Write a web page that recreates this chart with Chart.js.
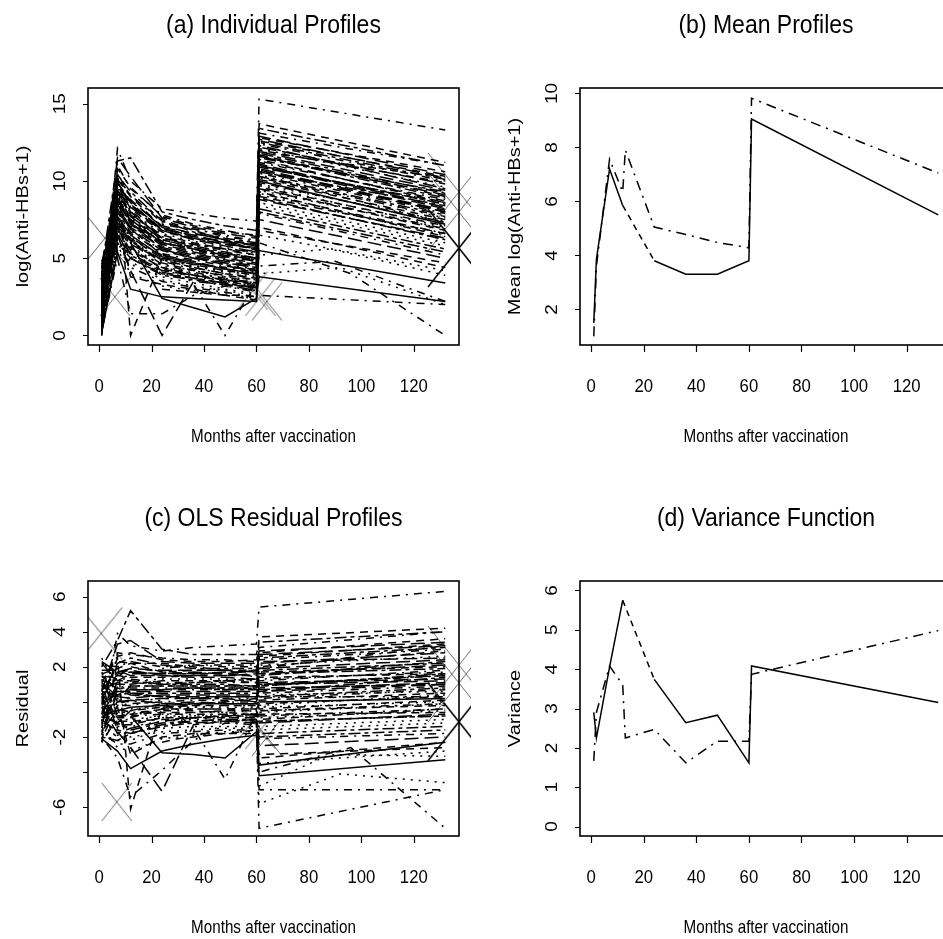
<!DOCTYPE html>
<html>
<head>
<meta charset="utf-8">
<script src="https://cdn.jsdelivr.net/npm/chart.js@4.4.1/dist/chart.umd.min.js"></script>
<style>
  html, body { margin: 0; padding: 0; background: #fff; overflow: hidden; width: 943px; height: 939px; }
  canvas { position: absolute; }
</style>
</head>
<body>
<canvas id="pa" width="471" height="470" style="left:0;top:0"></canvas>
<canvas id="pb" width="490" height="470" style="left:471px;top:0"></canvas>
<canvas id="pc" width="471" height="469" style="left:0;top:470px"></canvas>
<canvas id="pd" width="490" height="469" style="left:471px;top:470px"></canvas>
<script>
// ---- axis ticks and labels ----
const monthTicks = [0, 20, 40, 60, 80, 100, 120];
const logTicks = [0, 5, 10, 15];
const meanTicks = [2, 4, 6, 8, 10];
const residTicks = [-6, -4, -2, 0, 2, 4, 6];
const residTickLabels = ['-6', '', '-2', '', '2', '4', '6'];
const varTicks = [0, 1, 2, 3, 4, 5, 6];

const titles = ['(a) Individual Profiles', '(b) Mean Profiles', '(c) OLS Residual Profiles', '(d) Variance Function'];
const yTitles = ['log(Anti-HBs+1)', 'Mean log(Anti-HBs+1)', 'Residual', 'Variance'];
const xTitle = 'Months after vaccination';

// ---- individual log(Anti-HBs+1) profiles: [month, value] ----
const profiles = [
  [[1,0.0],[7,10.5],[12,9.0],[24,7.5],[36,6.8],[48,6.2],[60,5.5],[61,13.7],[132,11.2]],
  [[1,1.2],[7,12.1],[12,10.0],[24,8.2],[36,7.9],[48,7.6],[60,7.4],[61,15.3],[132,13.3]],
  [[1,2.5],[7,9.8],[12,8.5],[24,6.9],[36,6.5],[48,6.0],[60,5.9],[61,12.9],[132,10.4]],
  [[1,3.8],[7,8.9],[12,7.2],[24,5.6],[36,5.0],[48,4.6],[60,4.1],[61,11.6],[132,8.9]],
  [[1,0.5],[7,7.6],[12,6.4],[24,5.0],[36,4.5],[48,4.1],[60,3.8],[61,10.4],[132,7.6]],
  [[1,1.8],[7,6.9],[12,5.5],[24,4.4],[36,3.9],[48,3.6],[60,3.3],[61,9.5],[132,6.8]],
  [[1,4.4],[7,10.2],[12,9.1],[24,7.3],[36,6.9],[48,6.4],[60,6.1],[61,12.4],[132,10.0]],
  [[1,0.2],[7,5.4],[12,3.0],[24,2.5],[36,2.4],[48,2.3],[60,2.2],[61,5.5],[132,3.4]],
  [[1,2.0],[7,8.1],[12,6.9],[24,5.2],[36,4.8],[48,4.3],[60,4.0],[61,11.0],[132,8.2]],
  [[1,3.0],[7,9.3],[12,7.9],[24,6.3],[36,5.8],[48,5.4],[60,5.0],[61,11.8],[132,9.2]],
  [[1,1.0],[7,6.2],[12,4.8],[24,3.6],[36,3.2],[48,2.9],[60,2.6],[61,8.4],[132,5.8]],
  [[1,2.8],[7,7.3],[12,5.9],[24,4.9],[36,4.4],[48,4.0],[60,3.7],[61,9.9],[132,7.3]],
  [[1,0.8],[7,11.0],[12,9.5],[24,7.8],[36,7.2],[48,6.8],[60,6.4],[61,13.1],[132,11.0]],
  [[1,3.4],[7,8.5],[12,7.0],[24,5.7],[36,5.2],[48,4.8],[60,4.5],[61,10.8],[132,8.0]],
  [[1,1.5],[7,7.0],[12,5.2],[24,4.1],[36,3.7],[48,3.4],[60,3.0],[61,8.9],[132,6.2]],
  [[1,4.8],[7,9.0],[12,8.0],[24,6.6],[36,6.1],[48,5.7],[60,5.3],[61,12.1],[132,9.6]],
  [[1,0.3],[7,5.0],[12,1.4],[24,1.4],[36,2.6],[48,3.2],[60,2.8],[61,2.6],[132,2.0]],
  [[1,2.2],[7,10.7],[12,0.0],[24,5.0],[36,4.6],[48,4.2],[60,3.9],[61,10.1],[132,7.5]],
  [[1,1.3],[7,6.5],[12,4.2],[24,0.0],[36,3.5],[48,3.3],[60,2.9],[61,7.5],[132,5.0]],
  [[1,3.2],[7,8.0],[12,6.6],[24,5.4],[36,3.3],[48,0.0],[60,3.5],[61,9.2],[132,6.6]],
  [[12,6.0],[24,2.4],[36,1.8],[48,1.2],[60,2.4],[61,3.8],[132,2.2]],
  [[1,0.6],[7,7.8],[12,6.2],[24,4.8],[36,4.3],[48,3.8],[60,3.4],[61,6.0],[96,4.0],[132,0.0]],
  [[1,2.6],[7,9.6],[12,8.8],[24,7.0],[36,6.4],[48,6.0],[60,5.6],[61,11.4],[132,8.6]],
  [[1,3.6],[7,7.5],[12,6.0],[24,4.6],[36,4.1],[48,3.7],[60,3.4],[61,4.5],[90,4.8],[132,2.2]],
  [[1,1.7],[7,6.0],[12,4.6],[24,3.8],[36,3.4],[48,3.0],[60,2.7],[61,4.0],[92,4.4],[132,2.0]],
  [[1,0.4],[7,8.7],[12,7.5],[24,6.0],[36,5.6],[48,5.1],[60,4.8],[61,10.6],[132,8.4]],
  [[1,4.1],[7,10.0],[12,8.3],[24,6.8],[36,6.2],[48,5.8],[60,5.4],[61,12.7],[132,10.2]],
  [[1,2.4],[7,7.1],[12,5.7],[24,4.3],[36,3.9],[48,3.5],[60,3.2],[61,9.3],[132,6.4]],
  [[1,1.1],[7,9.1],[12,7.6],[24,6.1],[36,5.6],[48,5.2],[60,4.9],[61,11.2],[132,8.8]],
  [[1,3.3],[7,6.6],[12,5.0],[24,3.9],[36,3.6],[48,3.3],[60,3.1],[61,8.0],[132,5.4]],
  [[1,0.9],[7,8.3],[12,6.8],[24,5.5],[36,5.0],[48,4.6],[60,4.3],[61,9.7],[132,7.0]],
  [[1,2.9],[7,11.5],[12,10.3],[24,7.6],[36,7.0],[48,6.6],[60,6.3],[61,12.2],[132,9.8]],
  [[1,1.9],[7,7.9],[12,3.8],[24,3.3],[36,3.0],[48,2.6],[60,2.3],[61,7.0],[132,4.4]],
  [[1,3.9],[7,9.5],[12,8.1],[24,6.4],[36,5.9],[48,5.5],[60,5.2],[61,10.9],[132,8.5]],
  [[1,0.7],[7,6.8],[12,5.4],[24,4.2],[36,3.8],[48,3.5],[60,3.2],[61,5.2],[88,5.6],[132,3.9]],
  [[1,2.3],[7,8.6],[12,7.3],[24,5.8],[36,5.3],[48,4.9],[60,4.6],[61,10.3],[132,7.8]],
  [[1,4.6],[7,9.9],[12,8.7],[24,7.1],[36,6.6],[48,6.2],[60,5.8],[61,11.9],[132,9.4]],
  [[1,1.4],[7,7.4],[12,6.1],[24,4.7],[36,4.2],[48,3.9],[60,3.6],[61,9.0],[132,6.6]],
  [[1,3.1],[7,8.4],[12,7.7],[24,6.2],[36,5.7],[48,5.3],[60,5.0],[61,11.3],[132,8.7]],
  [[1,0.1],[7,6.3],[12,5.1],[24,4.0],[36,3.6],[48,3.2],[60,2.9],[61,8.6],[132,6.0]],
  [[1,2.7],[7,10.4],[12,9.3],[24,7.4],[36,6.7],[48,6.3],[60,6.0],[61,12.5],[132,10.1]],
  [[1,1.6],[7,7.7],[12,6.5],[24,5.1],[36,4.7],[48,4.3],[60,4.0],[61,10.0],[132,7.2]],
  [[1,3.5],[7,9.2],[12,7.8],[24,6.5],[36,6.0],[48,5.6],[60,5.2],[61,11.7],[132,9.0]],
  [[1,0.5],[7,5.8],[12,4.4],[24,3.5],[36,3.1],[48,2.8],[60,2.5],[61,7.9],[132,5.2]],
  [[1,2.1],[7,8.8],[12,7.4],[24,5.9],[36,5.4],[48,5.0],[60,4.7],[61,10.7],[132,8.1]],
  [[1,4.3],[7,11.3],[12,11.5],[24,8.0],[36,7.5],[48,7.1],[60,6.8],[61,13.4],[132,11.0]],
  [[1,1.2],[7,7.2],[12,5.8],[24,4.5],[36,4.0],[48,3.6],[60,3.3],[61,9.4],[132,6.9]],
  [[1,3.7],[7,9.7],[12,8.2],[24,6.7],[36,6.3],[48,5.9],[60,5.6],[61,12.0],[132,9.9]],
  [[1,0.2],[7,8.0],[12,6.7],[24,5.3],[36,4.9],[48,4.5],[60,4.2],[61,10.2],[132,7.7]],
  [[1,2.0],[7,6.4],[12,5.3],[24,4.2],[36,3.9],[48,3.6],[60,3.4],[61,8.8],[132,6.3]],
  [[1,1.0],[7,9.4],[12,8.0],[24,6.3],[36,5.9],[48,5.6],[60,5.4],[61,11.5],[132,9.3]],
  [[1,2.6],[7,7.0],[12,6.3],[24,5.0],[36,4.6],[48,4.4],[60,4.3],[61,9.6],[132,7.1]],
  [[1,0.9],[7,5.6],[12,4.0],[24,3.2],[36,2.9],[48,2.7],[60,2.4],[61,6.5],[132,4.2]],
  [[1,4.0],[7,8.2],[12,7.1],[24,6.0],[36,5.5],[48,5.1],[60,4.9],[61,10.5],[132,7.9]],
  [[1,1.6],[7,9.0],[12,7.3],[24,5.6],[36,5.1],[48,4.7],[60,4.4],[61,11.1],[132,8.3]],
  [[1,3.4],[7,10.8],[12,9.6],[24,7.7],[36,7.1],[48,6.7],[60,6.5],[61,12.8],[132,10.6]],
  [[1,0.3],[7,6.0],[12,5.0],[24,4.0],[36,3.7],[48,3.4],[60,3.1],[61,8.2],[132,5.6]],
  [[1,2.2],[7,8.4],[12,6.0],[24,4.9],[36,4.5],[48,4.2],[60,3.9],[61,9.8],[132,7.4]],
  [[1,1.8],[7,7.5],[12,6.3],[24,5.2],[36,4.7],[48,4.4],[60,4.1],[61,10.3],[132,7.3]],
  [[1,3.0],[7,9.9],[12,8.6],[24,6.8],[36,6.3],[48,5.9],[60,5.7],[61,12.3],[132,9.5]],
  [[24,3.0],[30,2.9],[36,2.8],[42,2.7],[48,2.6],[54,2.6],[60,2.5],[61,6.8],[132,4.7]],
  [[24,7.2],[30,7.0],[36,6.9],[42,6.7],[48,6.5],[54,6.3],[60,6.2],[61,11.9],[132,10.2]],
  [[1,0.6],[7,8.9],[12,7.7],[24,6.2],[36,5.7],[48,5.3],[60,5.0],[61,10.9],[132,8.6]],
  [[1,2.5],[7,6.7],[12,5.6],[24,4.6],[36,4.2],[48,3.8],[60,3.6],[61,9.1],[132,6.5]],
  [[1,1.4],[7,8.2],[12,6.9],[24,5.5],[36,5.0],[48,4.7],[60,4.4],[61,10.6],[132,8.0]],
  [[1,3.9],[7,10.1],[12,9.0],[24,7.0],[36,6.6],[48,6.2],[60,5.9],[61,12.6],[132,10.3]],
  [[1,0.0],[7,7.3],[12,6.1],[24,4.9],[36,4.4],[48,4.0],[60,3.7],[61,9.5],[132,6.9]],
  [[1,2.9],[7,8.6],[12,7.5],[24,6.0],[36,5.6],[48,5.2],[60,4.9],[61,11.0],[132,8.5]],
  [[1,1.1],[7,6.6],[12,5.6],[24,4.4],[36,4.0],[48,3.7],[60,3.4],[61,8.9],[132,6.2]],
  [[1,4.5],[7,9.4],[12,8.4],[24,6.9],[36,6.4],[48,6.1],[60,5.8],[61,11.6],[132,9.1]]
];

// ---- OLS residual profiles (same subjects, same order): [month, residual] ----
const residuals = [
  [[1,-2.3],[7,2.3],[12,2.2],[24,2.2],[36,2.0],[48,1.8],[60,1.4],[61,3.7],[132,4.2]],
  [[1,-1.1],[7,3.9],[12,3.2],[24,2.9],[36,3.1],[48,3.2],[60,3.3],[61,5.4],[132,6.3]],
  [[1,0.2],[7,1.6],[12,1.7],[24,1.6],[36,1.7],[48,1.6],[60,1.8],[61,2.9],[132,3.4]],
  [[1,1.5],[7,0.7],[12,0.4],[24,0.3],[36,0.2],[48,0.2],[60,0.0],[61,1.6],[132,1.9]],
  [[1,-1.8],[7,-0.6],[12,-0.4],[24,-0.3],[36,-0.3],[48,-0.3],[60,-0.3],[61,0.4],[132,0.6]],
  [[1,-0.5],[7,-1.3],[12,-1.3],[24,-0.9],[36,-0.9],[48,-0.8],[60,-0.8],[61,-0.5],[132,-0.2]],
  [[1,2.1],[7,2.0],[12,2.3],[24,2.0],[36,2.1],[48,2.0],[60,2.0],[61,2.4],[132,3.0]],
  [[1,-2.1],[7,-2.8],[12,-3.8],[24,-2.8],[36,-2.4],[48,-2.1],[60,-1.9],[61,-3.6],[132,-2.3]],
  [[1,-0.3],[7,-0.1],[12,0.1],[24,-0.1],[36,0.0],[48,-0.1],[60,-0.1],[61,1.0],[132,1.2]],
  [[1,0.7],[7,1.1],[12,1.1],[24,1.0],[36,1.0],[48,1.0],[60,0.9],[61,1.8],[132,2.2]],
  [[1,-1.3],[7,-2.0],[12,-2.0],[24,-1.7],[36,-1.6],[48,-1.5],[60,-1.5],[61,-1.6],[132,-1.2]],
  [[1,0.5],[7,-0.9],[12,-0.9],[24,-0.4],[36,-0.4],[48,-0.4],[60,-0.4],[61,-0.1],[132,0.3]],
  [[1,-1.5],[7,2.8],[12,2.7],[24,2.5],[36,2.4],[48,2.4],[60,2.3],[61,3.1],[132,4.0]],
  [[1,1.1],[7,0.3],[12,0.2],[24,0.4],[36,0.4],[48,0.4],[60,0.4],[61,0.8],[132,1.0]],
  [[1,-0.8],[7,-1.2],[12,-1.6],[24,-1.2],[36,-1.1],[48,-1.0],[60,-1.1],[61,-1.1],[132,-0.8]],
  [[1,2.5],[7,0.8],[12,1.2],[24,1.3],[36,1.3],[48,1.3],[60,1.2],[61,2.1],[132,2.6]],
  [[1,-2.0],[7,-3.2],[12,-5.4],[24,-3.9],[36,-2.2],[48,-1.2],[60,-1.3],[61,-7.2],[132,-5.0]],
  [[1,-0.1],[7,2.5],[12,-6.1],[24,-0.3],[36,-0.2],[48,-0.2],[60,-0.2],[61,0.1],[132,0.5]],
  [[1,-1.0],[7,-1.7],[12,-2.6],[24,-5.1],[36,-1.3],[48,-1.1],[60,-1.2],[61,-2.5],[132,-2.0]],
  [[1,0.9],[7,-0.2],[12,-0.2],[24,0.1],[36,-1.5],[48,-4.4],[60,-0.6],[61,-0.8],[132,-0.4]],
  [[12,-0.8],[24,-2.9],[36,-3.0],[48,-3.2],[60,-1.7],[61,-4.2],[132,-3.3]],
  [[1,-1.7],[7,-0.4],[12,-0.6],[24,-0.5],[36,-0.5],[48,-0.6],[60,-0.7],[61,-4.0],[96,-2.6],[132,-7.2]],
  [[1,0.3],[7,1.4],[12,2.0],[24,1.7],[36,1.6],[48,1.6],[60,1.5],[61,1.4],[132,1.6]],
  [[1,1.3],[7,-0.7],[12,-0.8],[24,-0.7],[36,-0.7],[48,-0.7],[60,-0.7],[61,-5.0],[132,-5.0]],
  [[1,-0.6],[7,-2.2],[12,-2.2],[24,-1.5],[36,-1.4],[48,-1.4],[60,-1.4],[61,-5.8],[92,-4.1],[132,-4.6]],
  [[1,-1.9],[7,0.5],[12,0.7],[24,0.7],[36,0.8],[48,0.7],[60,0.7],[61,0.6],[132,1.4]],
  [[1,1.8],[7,1.8],[12,1.5],[24,1.5],[36,1.4],[48,1.4],[60,1.3],[61,2.7],[132,3.2]],
  [[1,0.1],[7,-1.1],[12,-1.1],[24,-1.0],[36,-0.9],[48,-0.9],[60,-0.9],[61,-0.7],[132,-0.6]],
  [[1,-1.2],[7,0.9],[12,0.8],[24,0.8],[36,0.8],[48,0.8],[60,0.8],[61,1.2],[132,1.8]],
  [[1,1.0],[7,-1.6],[12,-1.8],[24,-1.4],[36,-1.2],[48,-1.1],[60,-1.0],[61,-2.0],[132,-1.6]],
  [[1,-1.4],[7,0.1],[12,0.0],[24,0.2],[36,0.2],[48,0.2],[60,0.2],[61,-0.3],[132,0.0]],
  [[1,0.6],[7,3.3],[12,3.5],[24,2.3],[36,2.2],[48,2.2],[60,2.2],[61,2.2],[132,2.8]],
  [[1,-0.4],[7,-0.3],[12,-3.0],[24,-2.0],[36,-1.8],[48,-1.8],[60,-1.8],[61,-3.0],[132,-2.6]],
  [[1,1.6],[7,1.3],[12,1.3],[24,1.1],[36,1.1],[48,1.1],[60,1.1],[61,0.9],[132,1.5]],
  [[1,-1.6],[7,-1.4],[12,-1.4],[24,-1.1],[36,-1.0],[48,-0.9],[60,-0.9],[61,-4.8],[88,-3.0],[132,-3.1]],
  [[1,0.0],[7,0.4],[12,0.5],[24,0.5],[36,0.5],[48,0.5],[60,0.5],[61,0.3],[132,0.8]],
  [[1,2.3],[7,1.7],[12,1.9],[24,1.8],[36,1.8],[48,1.8],[60,1.7],[61,1.9],[132,2.4]],
  [[1,-0.9],[7,-0.8],[12,-0.7],[24,-0.6],[36,-0.6],[48,-0.5],[60,-0.5],[61,-1.0],[132,-0.4]],
  [[1,0.8],[7,0.2],[12,0.9],[24,0.9],[36,0.9],[48,0.9],[60,0.9],[61,1.3],[132,1.7]],
  [[1,-2.2],[7,-1.9],[12,-1.7],[24,-1.3],[36,-1.2],[48,-1.2],[60,-1.2],[61,-1.4],[132,-1.0]],
  [[1,0.4],[7,2.2],[12,2.5],[24,2.1],[36,1.9],[48,1.9],[60,1.9],[61,2.5],[132,3.1]],
  [[1,-0.7],[7,-0.5],[12,-0.3],[24,-0.2],[36,-0.1],[48,-0.1],[60,-0.1],[61,0.0],[132,0.2]],
  [[1,1.2],[7,1.0],[12,1.0],[24,1.2],[36,1.2],[48,1.2],[60,1.1],[61,1.7],[132,2.0]],
  [[1,-1.8],[7,-2.4],[12,-2.4],[24,-1.8],[36,-1.7],[48,-1.6],[60,-1.6],[61,-2.1],[132,-1.8]],
  [[1,-0.2],[7,0.6],[12,0.6],[24,0.6],[36,0.6],[48,0.6],[60,0.6],[61,0.7],[132,1.1]],
  [[1,2.0],[7,3.5],[12,5.2],[24,3.0],[36,2.7],[48,2.7],[60,2.7],[61,3.4],[132,4.0]],
  [[1,-1.1],[7,-1.0],[12,-1.0],[24,-0.8],[36,-0.8],[48,-0.8],[60,-0.8],[61,-0.6],[132,-0.1]],
  [[1,1.4],[7,1.5],[12,1.4],[24,1.4],[36,1.5],[48,1.5],[60,1.5],[61,2.0],[132,2.9]],
  [[1,-2.1],[7,-0.2],[12,-0.1],[24,0.0],[36,0.1],[48,0.1],[60,0.1],[61,0.2],[132,0.7]],
  [[1,-0.3],[7,-1.8],[12,-1.5],[24,-1.1],[36,-0.9],[48,-0.8],[60,-0.7],[61,-1.2],[132,-0.7]],
  [[1,-1.3],[7,1.2],[12,1.2],[24,1.0],[36,1.1],[48,1.2],[60,1.3],[61,1.5],[132,2.3]],
  [[1,0.3],[7,-1.2],[12,-0.5],[24,-0.3],[36,-0.2],[48,0.0],[60,0.2],[61,-0.4],[132,0.1]],
  [[1,-1.4],[7,-2.6],[12,-2.8],[24,-2.1],[36,-1.9],[48,-1.7],[60,-1.7],[61,-3.5],[132,-2.8]],
  [[1,1.7],[7,0.0],[12,0.3],[24,0.7],[36,0.7],[48,0.7],[60,0.8],[61,0.5],[132,0.9]],
  [[1,-0.7],[7,0.8],[12,0.5],[24,0.3],[36,0.3],[48,0.3],[60,0.3],[61,1.1],[132,1.3]],
  [[1,1.1],[7,2.6],[12,2.8],[24,2.4],[36,2.3],[48,2.3],[60,2.4],[61,2.8],[132,3.6]],
  [[1,-2.0],[7,-2.2],[12,-1.8],[24,-1.3],[36,-1.1],[48,-1.0],[60,-1.0],[61,-1.8],[132,-1.4]],
  [[1,-0.1],[7,0.2],[12,-0.8],[24,-0.4],[36,-0.3],[48,-0.2],[60,-0.2],[61,-0.2],[132,0.4]],
  [[1,-0.5],[7,-0.7],[12,-0.5],[24,-0.1],[36,-0.1],[48,0.0],[60,0.0],[61,0.3],[132,0.3]],
  [[1,0.7],[7,1.7],[12,1.8],[24,1.5],[36,1.5],[48,1.5],[60,1.6],[61,2.3],[132,2.5]],
  [[24,-2.3],[30,-2.1],[36,-2.0],[42,-1.9],[48,-1.8],[54,-1.7],[60,-1.6],[61,-3.2],[132,-2.3]],
  [[24,1.9],[30,2.0],[36,2.1],[42,2.1],[48,2.1],[54,2.1],[60,2.1],[61,1.9],[132,3.2]],
  [[1,-1.7],[7,0.7],[12,0.9],[24,0.9],[36,0.9],[48,0.9],[60,0.9],[61,0.9],[132,1.6]],
  [[1,0.2],[7,-1.5],[12,-1.2],[24,-0.7],[36,-0.6],[48,-0.6],[60,-0.5],[61,-0.9],[132,-0.5]],
  [[1,-0.9],[7,0.0],[12,0.1],[24,0.2],[36,0.2],[48,0.3],[60,0.3],[61,0.6],[132,1.0]],
  [[1,1.6],[7,1.9],[12,2.2],[24,1.7],[36,1.8],[48,1.8],[60,1.8],[61,2.6],[132,3.3]],
  [[1,-2.3],[7,-0.9],[12,-0.7],[24,-0.4],[36,-0.4],[48,-0.4],[60,-0.4],[61,-0.5],[132,-0.1]],
  [[1,0.6],[7,0.4],[12,0.7],[24,0.7],[36,0.8],[48,0.8],[60,0.8],[61,1.0],[132,1.5]],
  [[1,-1.2],[7,-1.6],[12,-1.2],[24,-0.9],[36,-0.8],[48,-0.7],[60,-0.7],[61,-1.1],[132,-0.8]],
  [[1,2.2],[7,1.2],[12,1.6],[24,1.6],[36,1.6],[48,1.7],[60,1.7],[61,1.6],[132,2.1]]
];

// ---- group means and variances: [month, value] ----
const meanSolid   = [[1,1.5],[2,3.85],[7,7.2],[12,5.85],[24,3.8],[36,3.3],[48,3.3],[60,3.8],[61,9.05],[132,5.5]];
const meanDashDot = [[1,1.0],[2,3.6],[7,7.56],[12,6.35],[13,7.9],[24,5.05],[36,4.77],[48,4.48],[60,4.28],[61,9.82],[132,7.05]];
const varSolid    = [[1,2.9],[2,2.25],[7,4.05],[12,5.75],[24,3.74],[36,2.64],[48,2.83],[60,1.62],[61,4.08],[132,3.15]];
const varDashDot  = [[1,1.67],[2,2.9],[7,4.08],[12,3.6],[13,2.25],[24,2.47],[36,1.62],[48,2.17],[60,2.17],[61,3.87],[132,4.98]];
const dashedSpan  = [12, 24];   // the solid curves are drawn dashed over this interval

// ---- "x" plotting symbols: [month, value] ----
const profileMarksLeft  = [[2.2,6.3]];
const profileMarksGrey  = [[6,2.5],[58.5,2.9],[61.5,2.5],[64,2.2]];
const profileMarksEdge  = [[137.2,9.3],[137.2,8.0]];
const profileMarksBlack = [[137.2,5.66]];
const residMarksLeft    = [[0.8,3.9]];
const residMarksGrey    = [[6.7,-5.7],[58.5,-1.1],[61.5,-1.6],[64,-2.0]];
const residMarksEdge    = [[137.2,2.1],[137.2,1.08]];
const residMarksBlack   = [[137.2,-1.13]];

// line type of each subject (1 solid, 2 dashed, 3 dotted, 4 dot-dash, 5 long-dash, 6 two-dash)
const subjectLty = [
  2,4,5,6,3,2,4,1,5,6, 3,2,4,5,6,3,4,2,5,4,
  1,4,2,4,3,6,5,2,4,6, 3,5,2,4,3,6,5,2,4,3,
  6,1,2,4,5,6,3,2,4,5, 6,2,3,4,5,2,6,3,4,5,
  2,4,6,3,5,2,4,6,3,5
];

// ---- drawing helpers ----
const FONT = '"Liberation Sans", Arial, Helvetica, sans-serif';
const ltyUnit = 2;
const ltyPatterns = { 1: [], 2: [4,3], 3: [1,3], 4: [1,3,4,3], 5: [7,3], 6: [2,2,6,2] };

function toXY(pairs) { return pairs.map(([t, v]) => ({ x: t, y: v })); }

function crossSymbol(w, h, color, lw) {
  const c = document.createElement('canvas');
  c.width = w; c.height = h;
  const g = c.getContext('2d');
  g.strokeStyle = color; g.lineWidth = lw;
  g.beginPath();
  g.moveTo(1, 1); g.lineTo(w - 1, h - 1);
  g.moveTo(w - 1, 1); g.lineTo(1, h - 1);
  g.stroke();
  return c;
}
const smallCross = crossSymbol(32, 40, '#6a6a6a', 1);
const leftCross  = crossSymbol(44, 54, '#555', 1);
const edgeCross  = crossSymbol(64, 80, '#6a6a6a', 1);
const edgeCrossBlack = crossSymbol(64, 80, '#000', 1.6);

function text(ctx, s, x, y, size, sx, vertical) {
  ctx.save();
  ctx.translate(x, y);
  ctx.scale(sx, 1);
  if (vertical) ctx.rotate(-Math.PI / 2);
  ctx.font = size + 'px ' + FONT;
  ctx.fillStyle = '#000';
  ctx.textAlign = 'center';
  ctx.textBaseline = 'middle';
  ctx.fillText(s, 0, 0);
  ctx.restore();
}

// frame, tick marks, tick labels and titles in base-graphics style
const framePlugin = {
  id: 'frame',
  afterDraw(chart, args, opts) {
    const { ctx, chartArea: a } = chart;
    const xs = chart.scales.x, ys = chart.scales.y;
    ctx.save();
    ctx.strokeStyle = '#000';
    ctx.lineWidth = 1.6;
    ctx.strokeRect(a.left, a.top, a.right - a.left, a.bottom - a.top);
    ctx.lineWidth = 1.2;
    ctx.beginPath();
    xs.ticks.forEach(t => {
      const px = Math.round(xs.getPixelForValue(t.value)) + 0.5;
      ctx.moveTo(px, a.bottom); ctx.lineTo(px, a.bottom + 7);
    });
    ys.ticks.forEach(t => {
      const py = Math.round(ys.getPixelForValue(t.value)) + 0.5;
      ctx.moveTo(a.left, py); ctx.lineTo(a.left - 5, py);
    });
    ctx.stroke();
    ctx.restore();

    xs.ticks.forEach(t => text(ctx, String(t.value), xs.getPixelForValue(t.value), a.bottom + 42, 19, 0.88, false));
    ys.ticks.forEach((t, i) => {
      const lab = opts.yLabels ? opts.yLabels[i] : String(t.value);
      if (lab) text(ctx, lab, a.left - 27, ys.getPixelForValue(t.value), 19, 0.84, true);
    });
    const cx = (a.left + a.right) / 2, cy = (a.top + a.bottom) / 2;
    text(ctx, opts.title, cx, a.top - 62, 25, 0.92, false);
    text(ctx, xTitle, cx, a.bottom + 92, 19, 0.8, false);
    text(ctx, opts.yTitle, a.left - 65, cy, 20, 0.84, true);
  }
};

function makeChart(id, datasets, yRange, yTicks, padding, frameOpts) {
  return new Chart(document.getElementById(id), {
    type: 'line',
    data: { datasets },
    options: {
      responsive: false,
      animation: false,
      devicePixelRatio: 1,
      events: [],
      layout: { padding },
      scales: {
        x: {
          type: 'linear', min: -4.24, max: 137.24, display: false,
          afterBuildTicks: s => { s.ticks = monthTicks.map(v => ({ value: v })); }
        },
        y: {
          type: 'linear', min: yRange[0], max: yRange[1], display: false,
          afterBuildTicks: s => { s.ticks = yTicks.map(v => ({ value: v })); }
        }
      },
      plugins: { legend: { display: false }, tooltip: { enabled: false }, frame: frameOpts }
    },
    plugins: [framePlugin]
  });
}

function profileSets(list, lw) {
  return list.map((p, i) => ({
    data: toXY(p),
    borderColor: '#000',
    borderWidth: lw,
    borderDash: ltyPatterns[subjectLty[i]].map(v => v * ltyUnit),
    pointRadius: 0,
    tension: 0,
    fill: false
  }));
}
function markSet(pairs, symbol, clip) {
  return { data: toXY(pairs), showLine: false, pointStyle: symbol, pointRadius: 10, clip };
}
const leftClip = { left: 0, top: false, right: false, bottom: false };
const spanDash = ctx => (ctx.p0.parsed.x === dashedSpan[0] && ctx.p1.parsed.x === dashedSpan[1]) ? [6, 5] : undefined;
function groupSets(solid, dashDot) {
  return [
    { data: toXY(solid), borderColor: '#000', borderWidth: 1.5, pointRadius: 0, tension: 0, fill: false,
      segment: { borderDash: spanDash } },
    { data: toXY(dashDot), borderColor: '#000', borderWidth: 1.5, pointRadius: 0, tension: 0, fill: false,
      borderDash: [10, 6, 2, 6] }
  ];
}

makeChart('pa',
  [...profileSets(profiles, 1.5),
   markSet(profileMarksLeft, leftCross, leftClip),
   markSet(profileMarksGrey, smallCross, false),
   markSet(profileMarksEdge, edgeCross, false),
   markSet(profileMarksBlack, edgeCrossBlack, false)],
  [-0.616, 16.02], logTicks, { left: 88, top: 88, right: 12, bottom: 125 },
  { title: titles[0], yTitle: yTitles[0] });

makeChart('pb', groupSets(meanSolid, meanDashDot),
  [0.68, 10.2], meanTicks, { left: 109, top: 88, right: 9, bottom: 125 },
  { title: titles[1], yTitle: yTitles[1] });

makeChart('pc',
  [...profileSets(residuals, 1.5),
   markSet(residMarksLeft, leftCross, leftClip),
   markSet(residMarksGrey, smallCross, false),
   markSet(residMarksEdge, edgeCross, false),
   markSet(residMarksBlack, edgeCrossBlack, false)],
  [-7.64, 6.89], residTicks, { left: 88, top: 111, right: 12, bottom: 103 },
  { title: titles[2], yTitle: yTitles[2], yLabels: residTickLabels });

makeChart('pd', groupSets(varSolid, varDashDot),
  [-0.24, 6.24], varTicks, { left: 109, top: 111, right: 9, bottom: 103 },
  { title: titles[3], yTitle: yTitles[3] });
</script>
</body>
</html>
